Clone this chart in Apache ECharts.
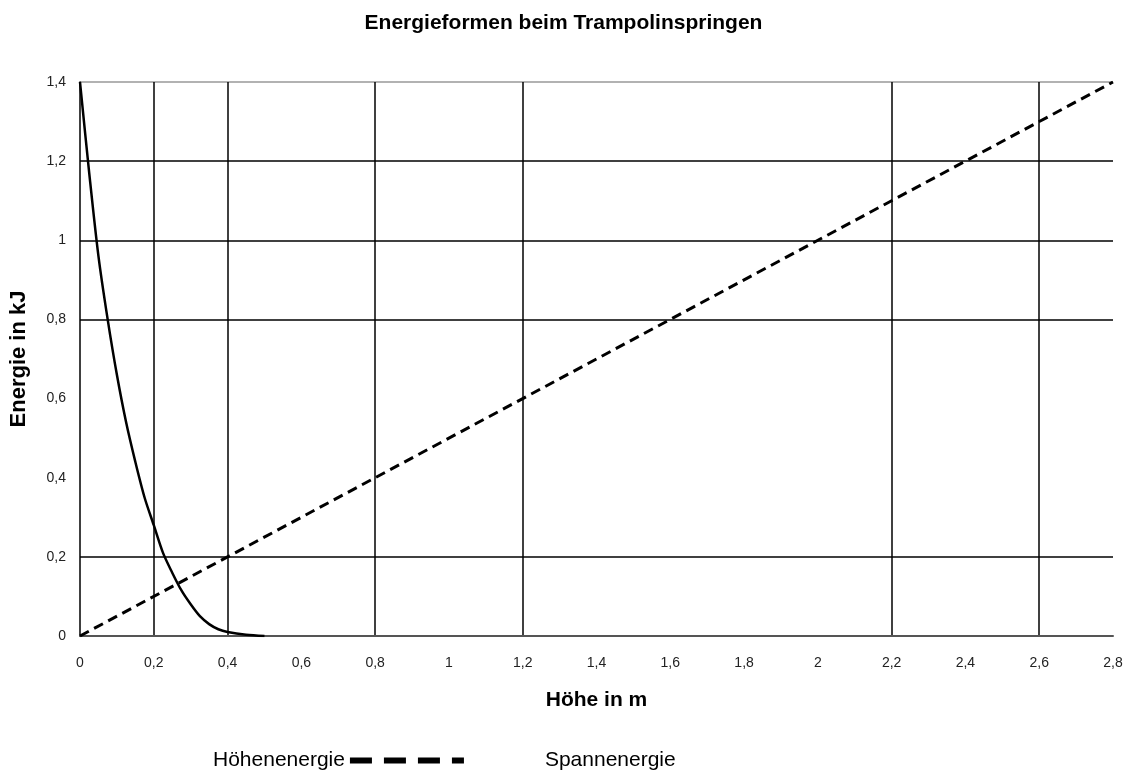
<!DOCTYPE html>
<html>
<head>
<meta charset="utf-8">
<script src="https://cdn.jsdelivr.net/npm/echarts@6/dist/echarts.min.js"></script>
<style>
  html, body { margin: 0; padding: 0; background: #fff; }
  #chart { width: 1127px; height: 775px; }
</style>
</head>
<body>
<div id="chart"></div>
<script>
// ---- data ----
const titleText = 'Energieformen beim Trampolinspringen';
const xAxisName = 'Höhe in m';
const yAxisName = 'Energie in kJ';
const seriesNames = ['Höhenenergie', 'Spannenergie'];

const xTickLabels = ['0', '0,2', '0,4', '0,6', '0,8', '1', '1,2', '1,4', '1,6', '1,8', '2', '2,2', '2,4', '2,6', '2,8'];
const yTickLabels = ['0', '0,2', '0,4', '0,6', '0,8', '1', '1,2', '1,4'];

// Höhenenergie (dashed, linear)
const hoeheX = [0, 0.4, 1.2, 2.0, 2.8];
const hoeheE = [0, 0.2, 0.6, 1.0, 1.4];

// Spannenergie (solid curve)
const spannX = [0, 0.025, 0.05, 0.075, 0.1, 0.125, 0.15, 0.175, 0.2, 0.225, 0.25, 0.275, 0.3, 0.325, 0.35, 0.375, 0.4, 0.45, 0.5];
const spannE = [1.40, 1.17, 0.96, 0.80, 0.66, 0.54, 0.44, 0.35, 0.28, 0.21, 0.16, 0.115, 0.08, 0.05, 0.03, 0.017, 0.01, 0.003, 0];

// ---- chart ----
const pairs = (xs, ys) => xs.map((x, i) => [x, ys[i]]);
const T = 'rgba(0,0,0,0)';
const K = '#000';

const chart = echarts.init(document.getElementById('chart'), null, { renderer: 'canvas' });
chart.setOption({
  animation: false,
  backgroundColor: '#fff',
  title: {
    text: titleText,
    left: 'center',
    top: 8,
    textStyle: { fontFamily: 'Liberation Sans', fontWeight: 'bold', fontSize: 21, color: '#000' }
  },
  grid: { left: 80, right: 14, top: 82, bottom: 139, outerBoundsMode: 'none' },
  legend: {
    data: [
      { name: seriesNames[0], lineStyle: { width: 6, type: [22, 12] }, itemStyle: { opacity: 0 } },
      { name: seriesNames[1], lineStyle: { opacity: 0 }, itemStyle: { opacity: 0 } }
    ],
    align: 'right',
    left: 208,
    top: 745,
    itemWidth: 114,
    itemHeight: 14,
    itemGap: 78,
    selectedMode: false,
    textStyle: { fontFamily: 'Liberation Sans', fontSize: 21, color: '#000' }
  },
  xAxis: {
    type: 'value',
    min: 0,
    max: 2.8,
    interval: 0.2,
    name: xAxisName,
    nameLocation: 'middle',
    nameGap: 54,
    nameTextStyle: { fontFamily: 'Liberation Sans', fontWeight: 'bold', fontSize: 21, color: '#000' },
    axisLine: { show: true, onZero: false, lineStyle: { color: '#555', width: 2 } },
    axisTick: { show: false },
    axisLabel: {
      margin: 20,
      showMinLabel: true,
      showMaxLabel: true,
      hideOverlap: false,
      fontFamily: 'Liberation Sans',
      fontSize: 14,
      color: '#222',
      formatter: v => xTickLabels[Math.round(v / 0.2)]
    },
    splitLine: {
      show: true,
      lineStyle: { width: 1.5, color: [T, K, K, T, K, T, K, T, T, T, T, K, T, K, T] }
    }
  },
  yAxis: {
    type: 'value',
    min: 0,
    max: 1.4,
    interval: 0.2,
    name: yAxisName,
    nameLocation: 'middle',
    nameRotate: 90,
    nameGap: 50,
    nameTextStyle: { fontFamily: 'Liberation Sans', fontWeight: 'bold', fontSize: 22, color: '#000' },
    axisLine: { show: true, onZero: false, lineStyle: { color: '#000', width: 1.5 } },
    axisTick: { show: false },
    axisLabel: {
      margin: 14,
      showMinLabel: true,
      showMaxLabel: true,
      fontFamily: 'Liberation Sans',
      fontSize: 14,
      color: '#222',
      formatter: v => yTickLabels[Math.round(v / 0.2)]
    },
    splitLine: {
      show: true,
      lineStyle: { width: 1.5, color: [T, K, T, T, K, K, K, '#999'] }
    }
  },
  series: [
    {
      name: seriesNames[0],
      type: 'line',
      data: pairs(hoeheX, hoeheE),
      symbol: 'none',
      color: '#000',
      lineStyle: { color: '#000', width: 3, type: [10, 6] },
      z: 3
    },
    {
      name: seriesNames[1],
      type: 'line',
      data: pairs(spannX, spannE),
      symbol: 'none',
      smooth: 0.3,
      color: '#000',
      lineStyle: { color: '#000', width: 2.5 },
      z: 3
    }
  ]
});
</script>
</body>
</html>
